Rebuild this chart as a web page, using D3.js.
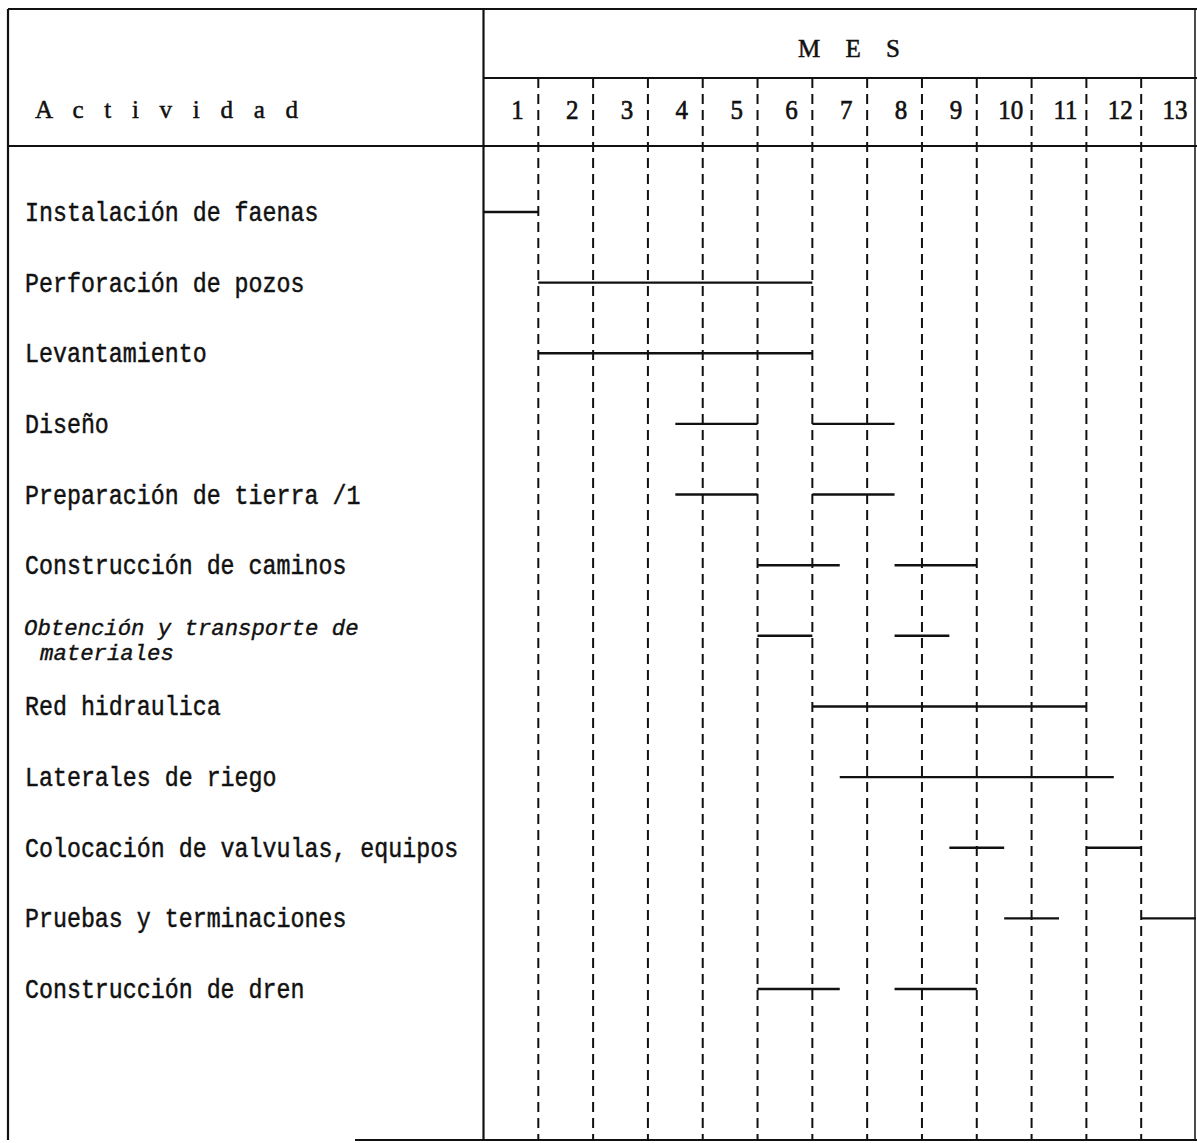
<!DOCTYPE html>
<html>
<head>
<meta charset="utf-8">
<script src="https://cdn.jsdelivr.net/npm/d3@7"></script>
<style>
  html, body { margin: 0; padding: 0; background: #fff; }
  svg { display: block; }
</style>
</head>
<body>
<svg id="chart" width="1197" height="1143"></svg>
<script>
// ---- data ----
const months = [1,2,3,4,5,6,7,8,9,10,11,12,13];
const activities = [
  "Instalación de faenas",
  "Perforación de pozos",
  "Levantamiento",
  "Diseño",
  "Preparación de tierra /1",
  "Construcción de caminos",
  "Obtención y transporte de materiales",
  "Red hidraulica",
  "Laterales de riego",
  "Colocación de valvulas, equipos",
  "Pruebas y terminaciones",
  "Construcción de dren"
];
// segments: [start, end] in months elapsed (0 = start of month 1)
const taskStart = [0, 1, 1, 3.5, 3.5, 5,   5,   6,  6.5,  8.5, 9.5,  5];
const taskEnd   = [1, 6, 6, 5,   5,   6.5, 6,   11, 11.5, 9.5, 10.5, 6.5];
const task2Start = [null, null, null, 6,   6,   7.5, 7.5, null, null, 11, 12, 7.5];
const task2End   = [null, null, null, 7.5, 7.5, 9,   8.5, null, null, 12, 13, 9];

// ---- layout ----
const svg = d3.select("#chart");
const frameL = 8, frameT = 9, frameB = 1140, frameR = 1195;
const divX = 483.5;
const mesLineY = 78, headBottom = 146;

const x = d3.scaleLinear().domain([0, 13]).range([divX, 1196]);
const y = d3.scalePoint().domain(activities).range([212, 989]);

const ink = "#111";

// frame
const g = svg.append("g");
g.append("line").attr("x1", frameL).attr("x2", 1197).attr("y1", frameT).attr("y2", frameT)
  .attr("stroke", ink).attr("stroke-width", 2.2);
g.append("line").attr("x1", frameL).attr("x2", frameL).attr("y1", frameT).attr("y2", frameB)
  .attr("stroke", ink).attr("stroke-width", 2.2);
g.append("line").attr("x1", divX).attr("x2", divX).attr("y1", frameT).attr("y2", frameB)
  .attr("stroke", ink).attr("stroke-width", 2.2);
g.append("line").attr("x1", frameR).attr("x2", frameR).attr("y1", frameT).attr("y2", frameB)
  .attr("stroke", ink).attr("stroke-width", 1.5);
g.append("line").attr("x1", divX).attr("x2", 1197).attr("y1", mesLineY).attr("y2", mesLineY)
  .attr("stroke", ink).attr("stroke-width", 2);
g.append("line").attr("x1", frameL).attr("x2", 1197).attr("y1", headBottom).attr("y2", headBottom)
  .attr("stroke", ink).attr("stroke-width", 2);
g.append("line").attr("x1", 355).attr("x2", 1197).attr("y1", frameB).attr("y2", frameB)
  .attr("stroke", ink).attr("stroke-width", 2);

// dashed month dividers
g.selectAll("line.div").data(months.slice(0, 12)).enter().append("line")
  .attr("class", "div")
  .attr("x1", d => x(d)).attr("x2", d => x(d))
  .attr("y1", mesLineY).attr("y2", frameB)
  .attr("stroke", ink).attr("stroke-width", 2)
  .attr("stroke-dasharray", "10,6");

// header texts
g.append("text").attr("x", 798).attr("y", 57)
  .attr("textLength", 102).attr("lengthAdjust", "spacing")
  .attr("font-family", "Liberation Serif").attr("font-size", 25)
  .attr("fill", ink).attr("stroke", ink).attr("stroke-width", 0.5)
  .text("M E S");
g.append("text").attr("x", 35).attr("y", 118)
  .attr("textLength", 263).attr("lengthAdjust", "spacing")
  .attr("font-family", "Liberation Serif").attr("font-size", 25)
  .attr("fill", ink).attr("stroke", ink).attr("stroke-width", 0.5)
  .text("A c t i v i d a d");

// month numbers (axis)
const axis = d3.axisTop(d3.scaleLinear().domain([0.5, 13.5]).range([divX, 1196]))
  .tickValues(months).tickSize(0).tickFormat(d3.format("d"));
const ax = g.append("g").attr("transform", "translate(0,119)").call(axis);
ax.select(".domain").remove();
ax.selectAll(".tick text")
  .attr("font-family", "Liberation Serif").attr("font-size", 25)
  .attr("fill", ink).attr("stroke", ink).attr("stroke-width", 0.6)
  .attr("dy", 0).attr("dx", 6).attr("y", 0)
  .attr("transform", "scale(1,1.1)");

// activity labels
const labels = g.append("g");
const labelFont = "Liberation Mono";
activities.forEach((a, i) => {
  if (a.startsWith("Obtención")) {
    labels.append("text")
      .attr("transform", `translate(24,${y(a) - 1})`)
      .attr("font-family", labelFont).attr("font-size", 22.3)
      .attr("font-style", "italic").attr("fill", ink)
      .attr("stroke", ink).attr("stroke-width", 0.4)
      .text("Obtención y transporte de");
    labels.append("text")
      .attr("transform", `translate(40,${y(a) + 24.5})`)
      .attr("font-family", labelFont).attr("font-size", 22.3)
      .attr("font-style", "italic").attr("fill", ink)
      .attr("stroke", ink).attr("stroke-width", 0.4)
      .text("materiales");
  } else {
    labels.append("text")
      .attr("transform", `translate(25,${y(a) + 9}) scale(1,1.2)`)
      .attr("font-family", labelFont).attr("font-size", 23.3)
      .attr("fill", ink).attr("stroke", ink).attr("stroke-width", 0.4)
      .text(a);
  }
});

// bars
const segs = [];
activities.forEach((a, i) => {
  segs.push({a, s: taskStart[i], e: taskEnd[i]});
  if (task2Start[i] != null) segs.push({a, s: task2Start[i], e: task2End[i]});
});
g.selectAll("line.bar").data(segs).enter().append("line")
  .attr("class", "bar")
  .attr("x1", d => x(d.s)).attr("x2", d => x(d.e))
  .attr("y1", d => y(d.a)).attr("y2", d => y(d.a))
  .attr("stroke", ink).attr("stroke-width", 2.4);
</script>
</body>
</html>
